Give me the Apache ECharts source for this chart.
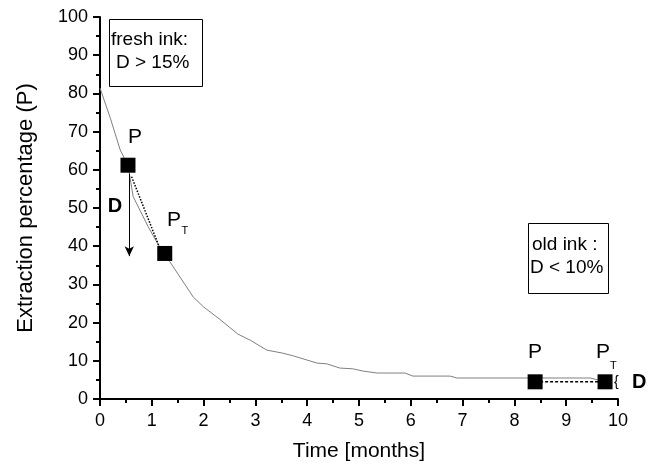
<!DOCTYPE html>
<html>
<head>
<meta charset="utf-8">
<script src="https://cdn.jsdelivr.net/npm/echarts@6/dist/echarts.min.js"></script>
<style>
  html, body { margin: 0; padding: 0; background: #fff; }
  #main { width: 651px; height: 472px; }
</style>
</head>
<body>
<div id="main"></div>
<script>
// curve
var curveX = [0, 0.2, 0.39, 0.54, 0.64, 0.93, 1.13, 1.25, 1.35, 1.8, 2.0, 2.3, 2.66, 2.9, 3.22, 3.53, 3.73, 4.19, 4.38, 4.63, 4.88, 5.08, 5.35, 5.89, 6.04, 6.76, 6.89, 8.24, 9.46, 9.61, 9.75];
var curveY = [81.4, 73.5, 65.2, 61.2, 53, 45.1, 40.3, 38.1, 35.9, 26.7, 24.1, 21, 17, 15.4, 12.8, 12, 11.3, 9.4, 9.2, 8.1, 7.9, 7.3, 6.8, 6.8, 6.0, 6.0, 5.5, 5.5, 5.5, 5.0, 4.6];

// P and P_T squares
var squareX = [0.54, 1.25, 8.40, 9.75];
var squareY = [61.2, 38.1, 4.5, 4.5];

// dotted connectors
var dotFresh = [[0.61, 58.2], [1.13, 40.3]];
var dotOld = [[8.40, 4.5], [9.75, 4.5]];

// D arrow
var arrowFrom = [0.565, 59];
var arrowTo = [0.565, 37.4];

var xTicks = [0, 10, 1];
var yTicks = [0, 100, 10];

var font = 'Liberation Sans, Arial, sans-serif';

function zip(xs, ys) {
    var out = [];
    for (var i = 0; i < xs.length; i++) out.push([xs[i], ys[i]]);
    return out;
}

function lab(x, y, text, size, bold) {
    return {
        value: [x, y],
        label: { formatter: text, fontSize: size, fontWeight: bold ? 'bold' : 'normal' }
    };
}

var labels = [
    lab(0.676, 68.6, 'P', 21),
    lab(1.43, 46.9, 'P', 21),
    lab(1.64, 44.0, 'T', 11),
    lab(0.29, 50.4, 'D', 20, true),
    lab(8.40, 12.3, 'P', 21),
    lab(9.71, 12.3, 'P', 21),
    lab(9.91, 8.6, 'T', 11),
    lab(9.97, 4.3, '{', 14),
    lab(10.41, 4.45, 'D', 20, true)
];

var chart = echarts.init(document.getElementById('main'));

var axisCommon = {
    type: 'value',
    nameLocation: 'middle',
    nameTextStyle: { fontSize: 21, color: '#000', fontFamily: font },
    axisLine: { show: true, lineStyle: { color: '#000', width: 2 } },
    axisTick: { show: true, length: 7, lineStyle: { color: '#000', width: 2 } },
    minorTick: { show: true, splitNumber: 2, length: 4, lineStyle: { color: '#000', width: 2 } },
    axisLabel: { fontSize: 18, color: '#000', fontFamily: font },
    splitLine: { show: false }
};

var option = {
    animation: false,
    backgroundColor: '#fff',
    textStyle: { fontFamily: font },
    grid: { left: 100, right: 33, top: 17, bottom: 73 },
    xAxis: Object.assign({}, axisCommon, {
        min: xTicks[0], max: xTicks[1], interval: xTicks[2],
        name: 'Time [months]', nameGap: 42,
        axisLabel: Object.assign({}, axisCommon.axisLabel, { margin: 13 })
    }),
    yAxis: Object.assign({}, axisCommon, {
        min: yTicks[0], max: yTicks[1], interval: yTicks[2],
        name: 'Extraction percentage (P)', nameGap: 63,
        nameTextStyle: { fontSize: 22, color: '#000', fontFamily: font },
        axisLabel: Object.assign({}, axisCommon.axisLabel, { margin: 12 })
    }),
    series: [
        {
            type: 'line',
            data: zip(curveX, curveY),
            symbol: 'none',
            lineStyle: { color: '#808080', width: 1 },
            silent: true,
            z: 2
        },
        {
            type: 'line',
            data: dotFresh,
            symbol: 'none',
            lineStyle: { color: '#000', width: 1.5, type: 'dotted' },
            silent: true,
            z: 3,
            markLine: {
                silent: true,
                symbol: ['none', 'arrow'],
                symbolSize: [7, 10],
                label: { show: false },
                lineStyle: { color: '#000', width: 1, type: 'solid' },
                data: [[{ coord: arrowFrom }, { coord: arrowTo }]]
            }
        },
        {
            type: 'line',
            data: dotOld,
            symbol: 'none',
            lineStyle: { color: '#000', width: 1.5, type: [3, 2] },
            silent: true,
            z: 3
        },
        {
            type: 'scatter',
            data: zip(squareX, squareY),
            symbol: 'rect',
            symbolSize: 15,
            itemStyle: { color: '#000', opacity: 1 },
            silent: true,
            z: 5
        },
        {
            type: 'scatter',
            data: labels,
            symbolSize: 0,
            clip: false,
            silent: true,
            itemStyle: { color: '#000', opacity: 1 },
            label: {
                show: true, position: 'inside', color: '#000', opacity: 1,
                align: 'center', verticalAlign: 'middle', fontFamily: font
            },
            z: 6
        }
    ],
    graphic: [
        {
            type: 'rect', left: 109, top: 19,
            shape: { width: 93, height: 67 },
            style: { fill: '#fff', stroke: '#000', lineWidth: 1 }
        },
        {
            type: 'text', left: 111, top: 30,
            style: { text: 'fresh ink:', font: '19px ' + font, fill: '#000' }
        },
        {
            type: 'text', left: 116, top: 53,
            style: { text: 'D > 15%', font: '19px ' + font, fill: '#000' }
        },
        {
            type: 'rect', left: 528, top: 223,
            shape: { width: 80, height: 70 },
            style: { fill: '#fff', stroke: '#000', lineWidth: 1 }
        },
        {
            type: 'text', left: 532, top: 235,
            style: { text: 'old ink :', font: '19px ' + font, fill: '#000' }
        },
        {
            type: 'text', left: 530, top: 258,
            style: { text: 'D < 10%', font: '19px ' + font, fill: '#000' }
        }
    ]
};

chart.setOption(option);
</script>
</body>
</html>
